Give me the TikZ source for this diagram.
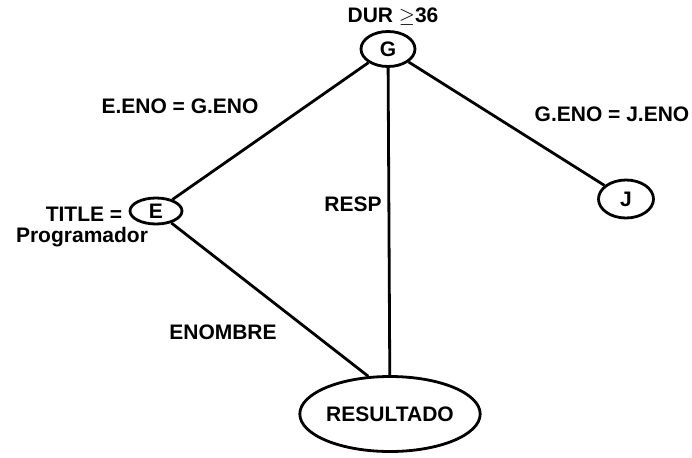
\documentclass[tikz,border=0pt]{standalone}
\usepackage{fontspec}
\setmainfont{Liberation Sans}
\usetikzlibrary{shapes,positioning}

\begin{document}
\begin{tikzpicture}[x=1pt, y=-1pt,
        font=\fontsize{21}{23}\selectfont\bfseries]

        \useasboundingbox (0,0) rectangle (692,457);

        % Relations of the query tree are ellipses
        \tikzset{rel/.style={draw, ellipse, line width=2.8pt, inner sep=0pt}}
        \tikzset{cond/.style={inner sep=0pt}}

        % Scope with the relation nodes
        \begin{scope}
            \node[rel, minimum width=54, minimum height=35] (G) at (388, 49) {G};
            \node[rel, minimum width=52, minimum height=26] (E) at (156, 211) {E};
            \node[rel, minimum width=55, minimum height=38] (J) at (626, 199) {J};
            \node[rel, minimum width=158, minimum height=75] (R) at (390, 414)
            {RESULTADO};
        \end{scope}

        % Selection and join conditions
        \node[cond] (dur) at (393, 17) {DUR $\geq$36};
        \node[cond] (EG) at (180, 106) {E.ENO = G.ENO};
        \node[cond] (GJ) at (612, 114) {G.ENO = J.ENO};
        \node[cond] (resp) at (353, 204) {RESP};
        \node[cond] (title) at (84, 214) {TITLE =};
        \node[cond] (prog) at (82, 237) {Programador};
        \node[cond] (enom) at (223, 332) {ENOMBRE};

        \begin{scope}[line width=2.8pt]
            \draw (G) -- (E);
            \draw (G) -- (J);
            \draw (G) -- (R);
            \draw (E) -- (R.120);
        \end{scope}

\end{tikzpicture}
\end{document}
